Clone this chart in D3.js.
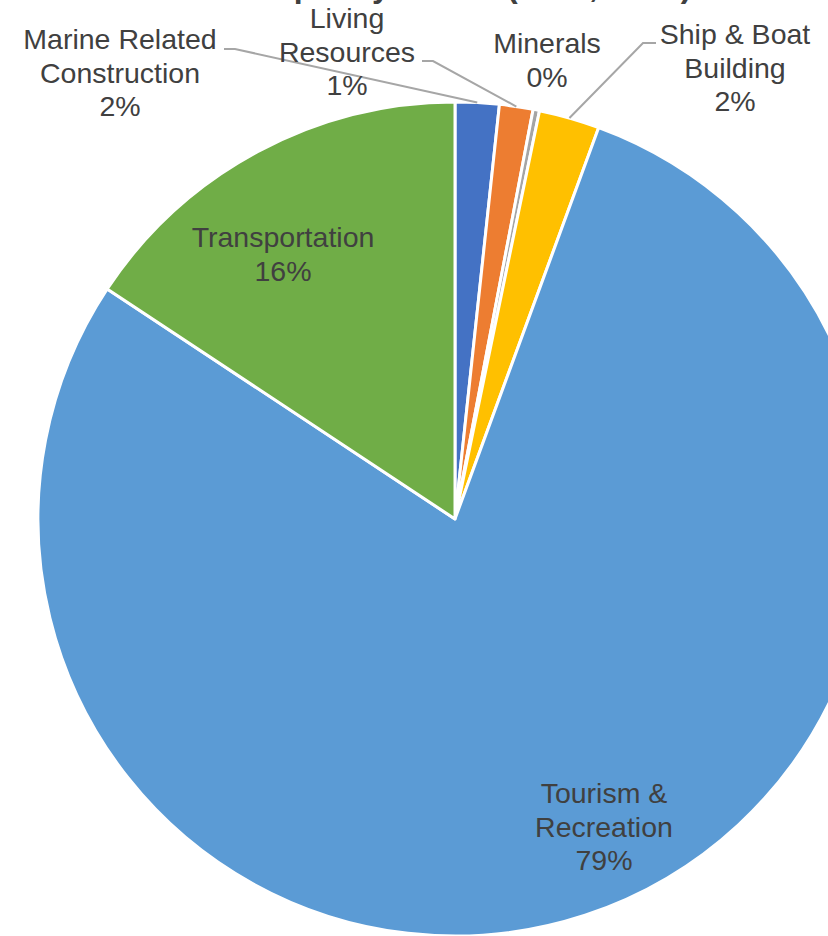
<!DOCTYPE html>
<html>
<head>
<meta charset="utf-8">
<script src="https://cdn.jsdelivr.net/npm/d3@7.9.0/dist/d3.min.js"></script>
<style>
  body { margin: 0; background: #fff; }
  text { font-family: Arial, "Liberation Sans", sans-serif; fill: #404040; }
</style>
</head>
<body>
<svg id="chart" width="828" height="936"></svg>
<script>
const title = 'Output by Sector (2018, Total)';

const categories = [
  'Marine Related Construction',
  'Living Resources',
  'Minerals',
  'Ship & Boat Building',
  'Tourism & Recreation',
  'Transportation',
];
const shares = [1.7, 1.3, 0.25, 2.35, 78.7, 15.7];
const colorList = ['#4472C4', '#ED7D31', '#A5A5A5', '#FFC000', '#5B9BD5', '#70AD47'];

// where each label sits (center x, first baseline) and how it wraps
const labelLayout = {
  'Marine Related Construction': { x: 120, y: 49, lines: ['Marine Related', 'Construction'], leader: [224, 235, 49] },
  'Living Resources': { x: 347, y: 28, lines: ['Living', 'Resources'], leader: [422, 433, 61] },
  'Minerals': { x: 547, y: 53, lines: ['Minerals'] },
  'Ship & Boat Building': { x: 735, y: 44, lines: ['Ship & Boat', 'Building'], leader: [656, 643, 43] },
  'Tourism & Recreation': { x: 604, y: 803, lines: ['Tourism &', 'Recreation'] },
  'Transportation': { x: 283, y: 247, lines: ['Transportation'] },
};

const cx = 455, cy = 519, radius = 417;
const lineH = 33.5;

const svg = d3.select('#chart');

svg.append('text')
  .attr('x', 465)
  .attr('y', -3)
  .attr('text-anchor', 'middle')
  .style('font-size', '32px')
  .style('font-weight', 'bold')
  .text(title);

const data = categories.map((name, i) => ({ name, value: shares[i], color: colorList[i] }));
const total = d3.sum(shares);

const pie = d3.pie().sort(null).value((d) => d.value);
const arcs = pie(data);
const arcGen = d3.arc().innerRadius(0).outerRadius(radius);

const g = svg.append('g').attr('transform', `translate(${cx},${cy})`);

g.selectAll('path')
  .data(arcs)
  .join('path')
  .attr('d', arcGen)
  .attr('fill', (d) => d.data.color)
  .attr('stroke', '#fff')
  .attr('stroke-width', 3)
  .attr('stroke-linejoin', 'round');

// leader lines go to the outer edge at the slice's middle angle
arcs.forEach((a) => {
  const lay = labelLayout[a.data.name];
  if (!lay.leader) return;
  const mid = (a.startAngle + a.endAngle) / 2;
  const ex = cx + radius * Math.sin(mid);
  const ey = cy - radius * Math.cos(mid);
  const [x1, x2, y] = lay.leader;
  svg.append('polyline')
    .attr('points', `${x1},${y} ${x2},${y} ${ex},${ey}`)
    .attr('fill', 'none')
    .attr('stroke', '#A6A6A6')
    .attr('stroke-width', 2);
});

arcs.forEach((a) => {
  const lay = labelLayout[a.data.name];
  const pct = Math.round((a.data.value / total) * 100) + '%';
  const t = svg.append('text')
    .attr('text-anchor', 'middle')
    .style('font-size', '28.5px');
  lay.lines.concat([pct]).forEach((line, i) => {
    t.append('tspan')
      .attr('x', lay.x)
      .attr('y', lay.y + i * lineH)
      .text(line);
  });
});
</script>
</body>
</html>
